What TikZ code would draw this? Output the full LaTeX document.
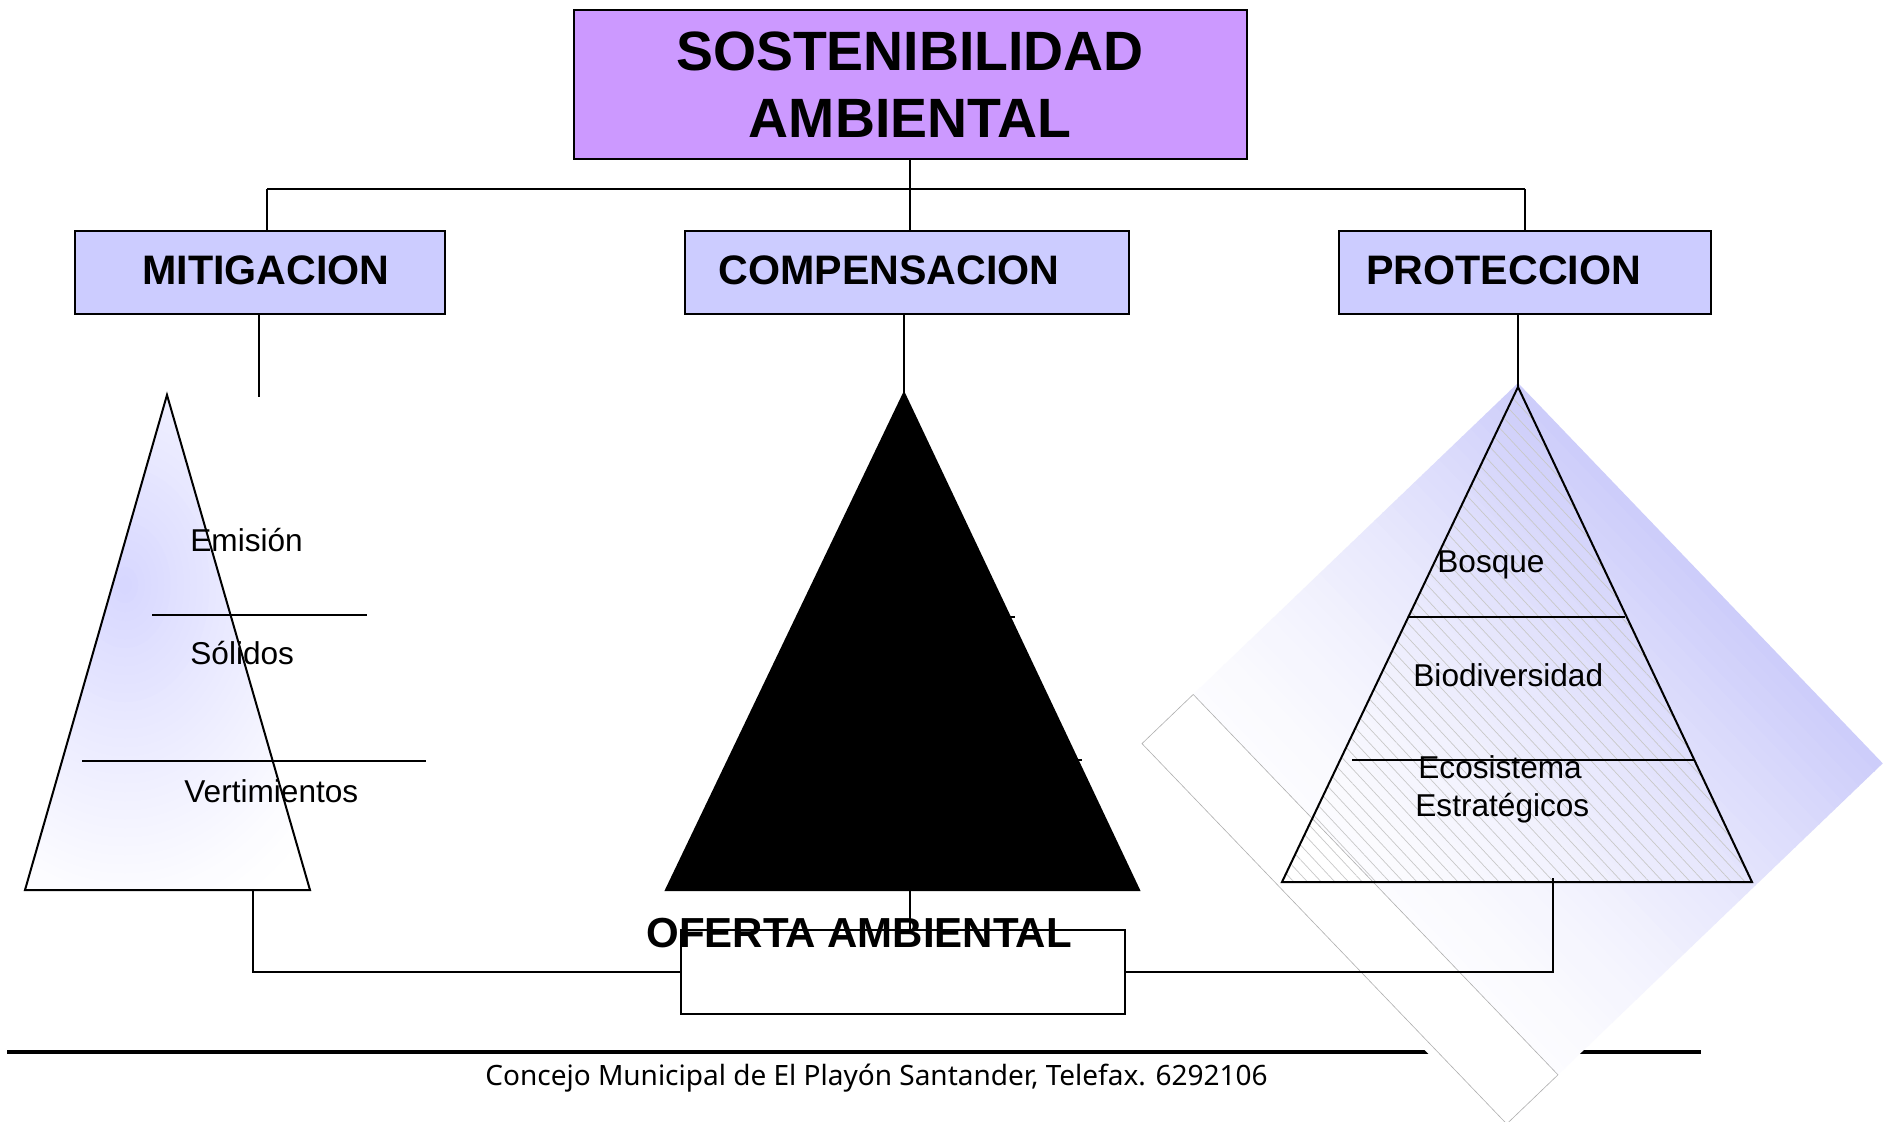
\documentclass[tikz,border=0pt]{standalone}
\usepackage{fontspec}
\setmainfont{Liberation Sans}
\newfontfamily\footfont{Noto Sans}
\usetikzlibrary{patterns.meta}
\definecolor{topfill}{RGB}{204,153,255}
\definecolor{boxfill}{RGB}{204,204,255}
\definecolor{lavL}{RGB}{214,214,255}
\definecolor{lavD}{RGB}{205,205,250}
\definecolor{hatchc}{RGB}{200,200,200}
\definecolor{stripc}{RGB}{175,175,175}
\begin{document}
\begin{tikzpicture}[x=0.5pt,y=-0.5pt,
  box/.style={draw=black, line width=1pt, inner sep=0pt},
  conn/.style={draw=black, line width=1pt},
  lvl/.style={font=\fontsize{20.6}{24}\selectfont\bfseries, anchor=base west, inner sep=0pt},
  item/.style={font=\fontsize{15.8}{19}\selectfont, anchor=base west, inner sep=0pt},
  tri/.style={draw=black, line width=1pt, line join=miter},
]
\useasboundingbox (0,0) rectangle (1886,1122);
\fill[white] (0,0) rectangle (1886,1122);

% footer line
\coordinate (f1) at (7,1052);
\coordinate (f2) at (1701,1052);
\draw[line width=2pt] (f1) -- (f2);

% gradient diamond and strip behind the right pyramid
\begin{scope}[shift={(1518,383)}, rotate=-46.2]
  \foreach \i in {0,...,47}{
    \pgfmathsetmacro\p{100*(1-\i/48)^1.6}
    \fill[lavD!\p!white] (0,\i*11) rectangle (527,\i*11+12);
  }
  \draw[stripc, line width=0.3pt, fill=white] (0,450) rectangle (527,521);
\end{scope}

% boxes
\node[box, fill=topfill, minimum width=336.5pt, minimum height=74.5pt,
      font=\fontsize{27.7}{33.5}\selectfont\bfseries, align=center]
      (top) at (910,84.5) {SOSTENIBILIDAD\\AMBIENTAL};
\node[box, fill=boxfill, minimum width=185pt, minimum height=41.75pt] (mit) at (260,272.75) {};
\node[box, fill=boxfill, minimum width=222pt, minimum height=41.75pt] (comp) at (906.5,272.75) {};
\node[box, fill=boxfill, minimum width=186pt, minimum height=41.75pt] (prot) at (1525,272.75) {};
\node[lvl] (mitt) at (142,285) {MITIGACION};
\node[lvl] (compt) at (718,285) {COMPENSACION};
\node[lvl] (prott) at (1366,285) {PROTECCION};

% bus
\coordinate (b1) at (267,189);
\coordinate (b3) at (1525,189);
\draw[conn] (b1) -- (b3);
\draw[conn] (b1) -- (b1 |- mit.north);
\draw[conn] (top.south) -- (top.south |- comp.north);
\draw[conn] (b3) -- (prot.north);

% left pyramid
\coordinate (l1) at (167,395);
\coordinate (l2) at (25,890);
\coordinate (l3) at (310,890);
\begin{scope}
  \clip (l1) -- (l2) -- (l3) -- cycle;
  \foreach \i in {0,...,39}{
    \pgfmathsetmacro\rx{260*(1-\i/40)}
    \pgfmathsetmacro\ry{360*(1-\i/40)}
    \pgfmathsetmacro\p{100*(\i/40)^1.2}
    \fill[lavL!\p!white] (125,585) ellipse[x radius=\rx, y radius=\ry];
  }
\end{scope}
\draw[tri] (l1) -- (l2) -- (l3) -- cycle;
\draw[conn] (152,615) -- (367,615);
\draw[conn] (82,761) -- (426,761);
\node[item] (emi) at (190,552) {Emisión};
\node[item] (sol) at (190,665) {Sólidos};
\node[item] (ver) at (184,803) {Vertimientos};
\coordinate (ls) at (259,397);
\draw[conn] (ls) -- (ls |- mit.south);

% middle pyramid
\coordinate (m1) at (904,393);
\coordinate (m2) at (666,890);
\coordinate (m3) at (1139,890);
\draw[conn] (800,617) -- (1015,617);
\draw[conn] (760,760) -- (1082,760);
\fill[black] (m1) -- (m2) -- (m3) -- cycle;
\draw[tri] (m1) -- (m2) -- (m3) -- cycle;
\draw[conn] (m1) -- (m1 |- comp.south);

% right pyramid
\coordinate (r1) at (1518,387);
\coordinate (r2) at (1282,882);
\coordinate (r3) at (1752,882);
\path[pattern={Lines[angle=-47,distance=5pt,line width=0.35pt]}, pattern color=hatchc]
  (r1) -- (r2) -- (r3) -- cycle;
\draw[tri] (r1) -- (r2) -- (r3) -- cycle;
\draw[conn] (1408,617) -- (1625,617);
\draw[conn] (1352,760) -- (1695,760);
\draw[conn] (r1) -- (r1 |- prot.south);
\node[item] (bos) at (1437,573) {Bosque};
\node[item] (bio) at (1413,687) {Biodiversidad};
\node[item] (eco) at (1418,779) {Ecosistema};
\node[item] (est) at (1415,817) {Estratégicos};

% oferta
\node[box, fill=white, minimum width=222pt, minimum height=42pt] (ofe) at (903,972) {};
\node[lvl, font=\fontsize{21}{24}\selectfont\bfseries] (ofet) at (646,947) {OFERTA AMBIENTAL};
\coordinate (lb) at (253,890);
\coordinate (mb) at (910,890);
\coordinate (rb) at (1553,878);
\draw[conn] (lb) |- (ofe.west);
\draw[conn] (mb) -- (mb |- ofe.north);
\draw[conn] (rb) |- (ofe.east);

% footer text
\node[font=\footfont\fontsize{14}{16}\selectfont, anchor=base west, inner sep=0pt]
  (foot) at (485,1085) {Concejo Municipal de El Playón Santander, Telefax. 6292106};
\end{tikzpicture}
\end{document}
